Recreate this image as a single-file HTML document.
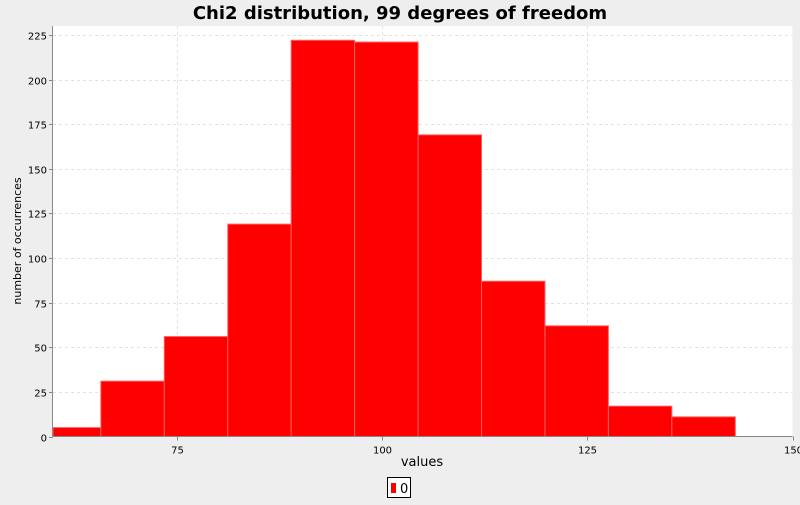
<!DOCTYPE html>
<html><head><meta charset="utf-8"><style>
body{margin:0;background:#eeeeee;}
svg text{font-family:"DejaVu Sans","Liberation Sans",sans-serif;}
</style></head><body>
<svg id="chart" width="800" height="500" xmlns="http://www.w3.org/2000/svg">
<rect x="0" y="0" width="800" height="500" fill="#eeeeee"/>
<text x="400" y="19" text-anchor="middle" font-size="18" font-weight="bold" fill="#000">Chi2 distribution, 99 degrees of freedom</text>
<rect x="53" y="26" width="739.5" height="410" fill="#fff"/>
<g id="grid"></g>
<g id="bars"></g>
<g id="axes"></g>
<text x="422" y="466" text-anchor="middle" font-size="13" fill="#000">values</text>
<text transform="translate(21,241) rotate(-90)" text-anchor="middle" font-size="11" fill="#000">number of occurrences</text>
<g>
<rect x="387.5" y="477.5" width="23" height="20" fill="#fff" stroke="#000" stroke-width="1"/>
<rect x="391" y="483" width="5" height="10" fill="#ff0000"/>
<text x="400" y="493" font-size="13" fill="#000">0</text>
</g>
</svg>
<script>
const binStarts=[58.0,65.73,73.46,81.19,88.92,96.65,104.38,112.11,119.84,127.57,135.3];
const binWidth=7.73;
const counts=[5,31,56,119,222,221,169,87,62,17,11];
const xTicks=[75,100,125,150];
const yTicks=[0,25,50,75,100,125,150,175,200,225];
const L=53,R=792.5,T=26,B=436.5,xMin=59.9,xMax=150,yMax=230;
const NS="http://www.w3.org/2000/svg";
function sx(v){return L+(v-xMin)/(xMax-xMin)*(R-L);}
function sy(v){return B-v/yMax*(B-T);}
function mk(t,a,p){const e=document.createElementNS(NS,t);for(const k in a)e.setAttribute(k,a[k]);p.appendChild(e);return e;}
const grid=document.getElementById('grid'),bars=document.getElementById('bars'),axes=document.getElementById('axes');
yTicks.forEach(v=>{
  const y=Math.round(sy(v))+0.5;
  if(v>0){const g=mk('line',{x1:L,x2:R,y1:y,y2:y,stroke:'#e2e2e2','stroke-dasharray':'3,3','stroke-width':1},grid);
  
  }
  const tk=mk('line',{x1:L-4,x2:L,y1:y,y2:y,stroke:'#888'},axes);
  
  
  const t=mk('text',{x:L-6,y:y+4,'text-anchor':'end','font-size':10,fill:'#000'},axes);
  t.textContent=v;
  
  
});
xTicks.forEach(v=>{
  const x=Math.round(sx(v))+0.5;
  if(v<150){const g=mk('line',{x1:x,x2:x,y1:T,y2:B,stroke:'#e2e2e2','stroke-dasharray':'3,3','stroke-width':1},grid);
  
  }
  const tk=mk('line',{x1:x,x2:x,y1:B,y2:B+4,stroke:'#888'},axes);
  
  
  const t=mk('text',{x:x,y:B+17,'text-anchor':'middle','font-size':10,fill:'#000'},axes);
  t.textContent=v;
  
  
});
counts.forEach((c,i)=>{
  const x0=Math.max(L,sx(binStarts[i])),x1=sx(binStarts[i]+binWidth);
  const y=sy(c);
  const r=mk('rect',{x:x0,y:y,width:x1-x0,height:B-y,fill:'#ff0000',stroke:'#ff6060','stroke-width':1},bars);
  
  
});
const xa=mk('line',{x1:L,x2:R,y1:B,y2:B,stroke:'#888'},axes);


const ya=mk('line',{x1:L-0.5,x2:L-0.5,y1:T,y2:B,stroke:'#888'},axes);


</script>
</body></html>
